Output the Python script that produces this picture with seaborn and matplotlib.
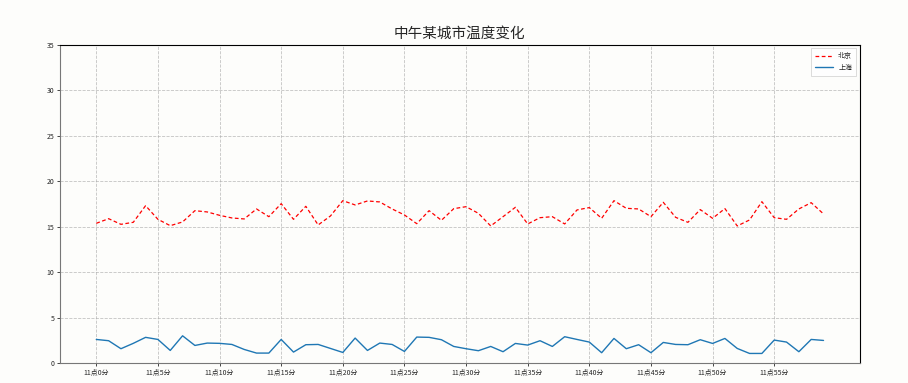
import matplotlib
matplotlib.use("Agg")
import matplotlib.pyplot as plt
import seaborn as sns
import pandas as pd

minutes = list(range(60))
tick_minutes = list(range(0, 60, 5))
tick_labels = [f"11点{m}分" for m in tick_minutes]

beijing = [15.37, 15.88, 15.26, 15.48, 17.31, 15.81, 15.11, 15.52, 16.76, 16.62,
           16.25, 15.96, 15.85, 16.95, 16.10, 17.53, 15.81, 17.24, 15.19, 16.18,
           17.86, 17.39, 17.83, 17.72, 16.95, 16.29, 15.33, 16.76, 15.70, 16.98,
           17.20, 16.47, 15.08, 16.10, 17.13, 15.30, 15.99, 16.10, 15.30, 16.84,
           17.10, 15.92, 17.86, 17.02, 16.95, 16.10, 17.68, 16.03, 15.48, 16.88,
           15.92, 16.99, 15.08, 15.74, 17.75, 15.99, 15.81, 16.95, 17.64, 16.40]

shanghai = [2.60, 2.46, 1.58, 2.17, 2.83, 2.60, 1.39, 3.00, 1.94, 2.20,
            2.17, 2.05, 1.50, 1.10, 1.10, 2.60, 1.21, 2.02, 2.05, 1.61,
            1.17, 2.75, 1.39, 2.20, 2.05, 1.28, 2.86, 2.83, 2.57, 1.83,
            1.58, 1.36, 1.83, 1.25, 2.16, 1.98, 2.46, 1.83, 2.90, 2.60,
            2.31, 1.14, 2.71, 1.58, 2.02, 1.14, 2.27, 2.05, 2.02, 2.57,
            2.16, 2.71, 1.61, 1.06, 1.06, 2.53, 2.31, 1.25, 2.60, 2.49]

y_ticks = list(range(0, 40, 5))

sns.set_style("white")
plt.rcParams['font.family'] = ['Noto Sans CJK SC', 'DejaVu Sans']
plt.rcParams['axes.unicode_minus'] = False

df_bj = pd.DataFrame({"minute": minutes, "temp": beijing})
df_sh = pd.DataFrame({"minute": minutes, "temp": shanghai})

fig = plt.figure(figsize=(9.08, 3.83), dpi=100, facecolor="#fdfdfb")
ax = fig.add_axes([0.066, 0.052, 0.881, 0.831])
ax.set_facecolor("#fdfdfb")

sns.lineplot(data=df_bj, x="minute", y="temp", ax=ax, color="red",
             linestyle=(0, (3, 2)), linewidth=0.9, label="北京")
sns.lineplot(data=df_sh, x="minute", y="temp", ax=ax, color="#1f77b4",
             linestyle="-", linewidth=1.0, label="上海")

ax.set_xticks(tick_minutes)
ax.set_xticklabels(tick_labels, fontsize=5)
ax.set_yticks(y_ticks)
ax.set_yticklabels([str(v) for v in y_ticks], fontsize=5)
ax.set_ylim(0, 35)
ax.margins(x=0.05)
ax.set_xlabel("")
ax.set_ylabel("")
ax.tick_params(axis="both", length=2, width=0.6, pad=2, direction="out",
               bottom=True, left=True)
ax.grid(True, linestyle="--", linewidth=0.6, color="#aaaaaa", alpha=0.7)

for side in ["left", "bottom"]:
    ax.spines[side].set_color("#777777")
    ax.spines[side].set_linewidth(0.8)
for side in ["top", "right"]:
    ax.spines[side].set_color("black")
    ax.spines[side].set_linewidth(0.8)

ax.set_title("中午某城市温度变化", fontsize=10.5, pad=5)
leg = ax.legend(loc="upper right", fontsize=5, frameon=True, fancybox=False,
                handlelength=2.5, borderpad=0.6)
leg.get_frame().set_edgecolor("#cccccc")
leg.get_frame().set_linewidth(0.6)

fig.savefig("out.png", dpi=100, facecolor=fig.get_facecolor())
